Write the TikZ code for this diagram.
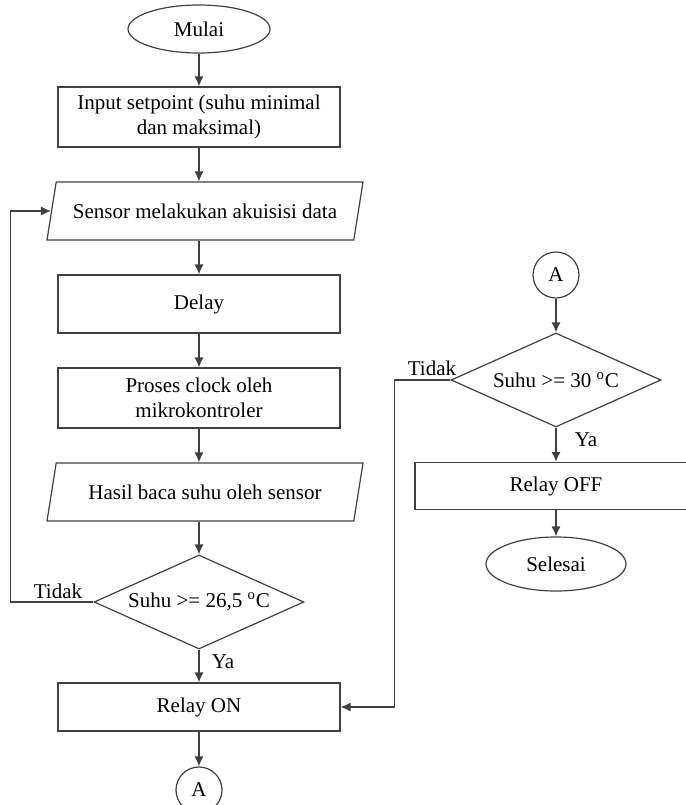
\documentclass[tikz,border=0pt]{standalone}
\usepackage{fontspec}
\setmainfont{Liberation Serif}
\usetikzlibrary{shapes.geometric,arrows.meta}
\colorlet{garis}{black!75}

\begin{document}
\begin{tikzpicture}[x=0.5pt,y=-0.5pt,
  font=\fontsize{10.5}{12.5}\selectfont,
  terminal/.style={ellipse, draw=garis, line width=0.6pt, minimum width=71pt, minimum height=24pt, inner sep=0pt},
  proses/.style={rectangle, draw=garis, line width=0.6pt, minimum width=141pt, minimum height=30pt, align=center, inner sep=2pt},
  masukan/.style={trapezium, trapezium left angle=68, trapezium right angle=112, trapezium stretches body, draw=garis, line width=0.6pt, minimum width=158pt, minimum height=29pt, inner sep=2pt},
  keputusan/.style={diamond, draw=garis, line width=0.6pt, aspect=2.23, minimum width=105pt, minimum height=47pt, inner sep=0pt},
  konektor/.style={circle, draw=garis, line width=0.6pt, minimum size=23pt, inner sep=0pt},
  panah/.style={draw=garis, line width=0.6pt, -{Latex[length=5pt,width=4.5pt]}},
  garisan/.style={draw=garis, line width=0.6pt},
]
\useasboundingbox (0,0) rectangle (686,805);
\clip (0,0) rectangle (686,805);

% kolom kiri
\node[terminal] (mulai) at (199,29) {Mulai};
\node[proses] (input) at (199,117) {Input setpoint (suhu minimal\\dan maksimal)};
\node[masukan] (sensor) at (205,211) {Sensor melakukan akuisisi data};
\node[proses, minimum height=29pt] (delay) at (199,304) {Delay};
\node[proses] (clock) at (199,398) {Proses clock oleh\\mikrokontroler};
\node[masukan] (hasil) at (205,492) {Hasil baca suhu oleh sensor};
\node[keputusan] (cek1) at (199,602) {Suhu >= 26,5 \textsuperscript{o}C};
\node[proses, minimum height=24pt] (relayon) at (199,707) {Relay ON};
\node[konektor] (konA) at (199,790) {A};
\node (tidak1) at (58,591) {Tidak};
\node (ya1) at (223,662) {Ya};

% kolom kanan
\node[konektor] (konB) at (556,275) {A};
\node[keputusan] (cek2) at (556,380) {Suhu >= 30 \textsuperscript{o}C};
\node[proses, minimum height=23.5pt] (relayoff) at (556,486) {Relay OFF};
\node[terminal, minimum height=27pt, minimum width=70pt] (selesai) at (556,564) {Selesai};
\node (tidak2) at (432,368) {Tidak};
\node (ya2) at (586,440) {Ya};

% alur
\draw[panah] (mulai) -- (input);
\draw[panah] (input.south) -- (input.south |- sensor.north);
\draw[panah] (delay.north |- sensor.south) -- (delay.north);
\draw[panah] (delay) -- (clock);
\draw[panah] (clock.south) -- (clock.south |- hasil.north);
\draw[panah] (cek1.north |- hasil.south) -- (cek1.north);
\draw[panah] (cek1) -- (relayon);
\draw[panah] (relayon) -- (konA);
\draw[panah] (cek1.west) -- ++(-83,0) |- (sensor.left side);

\draw[panah] (konB) -- (cek2);
\draw[panah] (cek2) -- (relayoff);
\draw[panah] (relayoff) -- (selesai);
\draw[panah] (cek2.west) -- ++(-56,0) |- (relayon.east);
\end{tikzpicture}
\end{document}
